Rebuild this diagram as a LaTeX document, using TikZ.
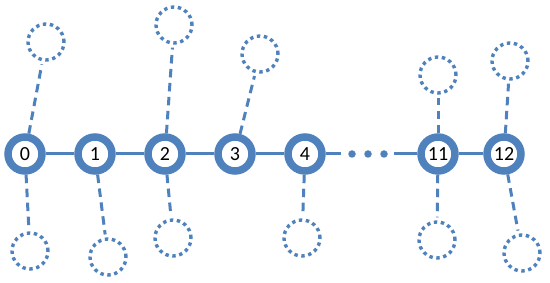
\documentclass[tikz,border=0pt]{standalone}
\usepackage{fontspec}
\setmainfont{Carlito}
\definecolor{chainblue}{HTML}{4F81BD}
\usetikzlibrary{positioning}
\tikzset{
	hub/.style={circle, draw=chainblue, line width=7.5pt, fill=white, minimum size=34pt, inner sep=0pt, font=\fontsize{20}{22}\selectfont}
}
\tikzset{
	leaf/.style={circle, draw=chainblue, line width=3.4pt, dash pattern=on 3.4pt off 3.6pt, minimum size=36pt, inner sep=0pt}
}
\tikzset{
	link/.style={chainblue, line width=3pt},
	tether/.style={chainblue, line width=3pt, dash pattern=on 8.5pt off 5.5pt},
	ellipsisdot/.style={circle, fill=chainblue, minimum size=7.5pt, inner sep=0pt}
}

\begin{document}
\begin{tikzpicture}[x=1pt, y=-1pt]
      \useasboundingbox (0,0) rectangle (550,283);
      % chain of sites
      \foreach \i/\x in {0/25, 1/95, 2/165, 3/235, 4/305, 11/438, 12/504}
        \node[hub] (n\i) at (\x,154) {\i};
      \foreach \a/\b in {0/1, 1/2, 2/3, 3/4, 11/12}
        \draw[link] (n\a) -- (n\b);
      % gap between 4 and 11
      \coordinate (gapL) at (341,154);
      \coordinate (gapR) at (394,154);
      \foreach \k/\x in {1/352, 2/368, 3/384}
        \node[ellipsisdot] (d\k) at (\x,154) {};
      \draw[link] (n4) -- (gapL);
      \draw[link] (gapR) -- (n11);
      % dangling side sites, top (t) and bottom (b)
      \foreach \n/\s/\x/\y in {
        0/t/46/42, 0/b/30/251,
        1/b/108/257,
        2/t/174/25, 2/b/173/238,
        3/t/260/54,
        4/b/302/238,
        11/t/438/75, 11/b/437/240,
        12/t/510/61, 12/b/522/253}
      {
        \node[leaf] (\s\n) at (\x,\y) {};
        \draw[tether, shorten >=3pt] (n\n) -- (\s\n);
      }
    \end{tikzpicture}
\end{document}
